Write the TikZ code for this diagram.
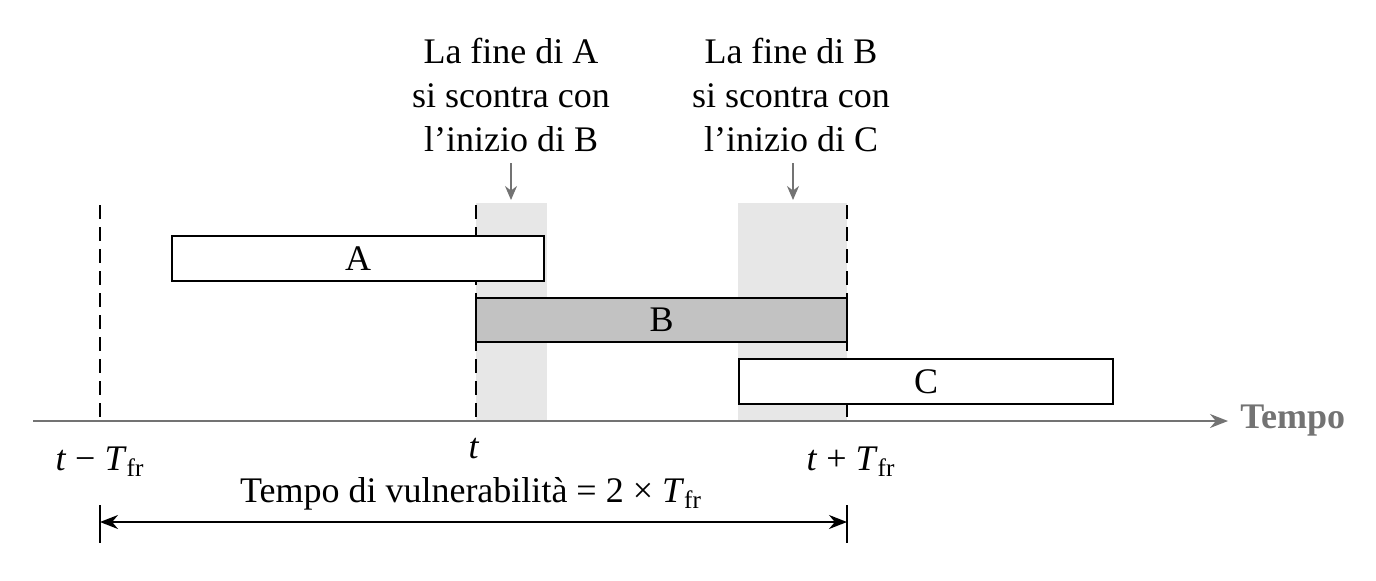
\documentclass[tikz,border=0pt]{standalone}
\usepackage{fontspec}
\setmainfont{Liberation Serif}
\usetikzlibrary{arrows.meta}
\definecolor{shadegray}{gray}{0.905}
\definecolor{boxgray}{gray}{0.76}
\definecolor{axisgray}{gray}{0.45}
\tikzset{
  bar/.style={draw=black, line width=1.1pt, inner sep=0pt},
  vline/.style={line width=0.9pt, dash pattern=on 7pt off 4pt},
  lbl/.style={font=\fontsize{18}{22}\selectfont, inner sep=0pt},
  note/.style={lbl, align=center},
  pointer/.style={draw=axisgray, line width=0.8pt, -{Stealth[length=7pt,width=6pt]}},
}
\begin{document}
\begin{tikzpicture}[x=0.5pt,y=-0.5pt]
\useasboundingbox (0,0) rectangle (1376,580);
% shaded regions
\fill[fill=shadegray] (476,203) rectangle (547,421);
\fill[fill=shadegray] (738,203) rectangle (847,421);
% coordinates
\coordinate (d1t) at (100,205); \coordinate (d1b) at (100,424);
\coordinate (d2t) at (476,205); \coordinate (d2b) at (476,424);
\coordinate (d3t) at (847,205); \coordinate (d3b) at (847,424);
\draw[vline] (d1t) -- (d1b);
\draw[vline] (d2t) -- (d2b);
\draw[vline] (d3t) -- (d3b);
% frames
\node[bar, fill=white, minimum width=186pt, minimum height=22.5pt, lbl] (A) at (358,258.5) {A};
\node[bar, fill=boxgray, minimum width=185.5pt, minimum height=22pt, lbl] (B) at (661.5,320) {B};
\node[bar, fill=white, minimum width=187pt, minimum height=22.5pt, lbl] (C) at (926,381.5) {C};
% axis
\coordinate (ax0) at (33,421);
\node[lbl, anchor=west, inner xsep=6pt, text=axisgray, font=\fontsize{18}{22}\selectfont\bfseries] (tempo) at (1228,421) {Tempo};
\draw[draw=axisgray, line width=0.8pt, -{Stealth[length=9pt,width=7pt]}] (ax0) -- (tempo.west);
% tick labels
\node[lbl] (tm) at (100,462) {\textit{t} − \textit{T}\textsubscript{fr}};
\node[lbl] (t) at (474,449) {\textit{t}};
\node[lbl] (tp) at (851,462) {\textit{t} + \textit{T}\textsubscript{fr}};
% vulnerability
\node[lbl] (vul) at (471,494) {Tempo di vulnerabilità = 2 × \textit{T}\textsubscript{fr}};
\coordinate (vl) at (100,522); \coordinate (vr) at (847,522);
\draw[line width=0.9pt] (100,505) -- (100,543);
\draw[line width=0.9pt] (847,505) -- (847,543);
\draw[line width=0.8pt, {Stealth[length=9pt,width=7pt]}-{Stealth[length=9pt,width=7pt]}] (vl) -- (vr);
% notes
\node[note] (n1) at (511,95) {La fine di A\\si scontra con\\l’inizio di B};
\node[note] (n2) at (791,95) {La fine di B\\si scontra con\\l’inizio di C};
\coordinate (p1) at (511,200); \coordinate (p2) at (793,200);
\draw[pointer] (511,163) -- (p1);
\draw[pointer] (793,163) -- (p2);
\end{tikzpicture}
\end{document}
